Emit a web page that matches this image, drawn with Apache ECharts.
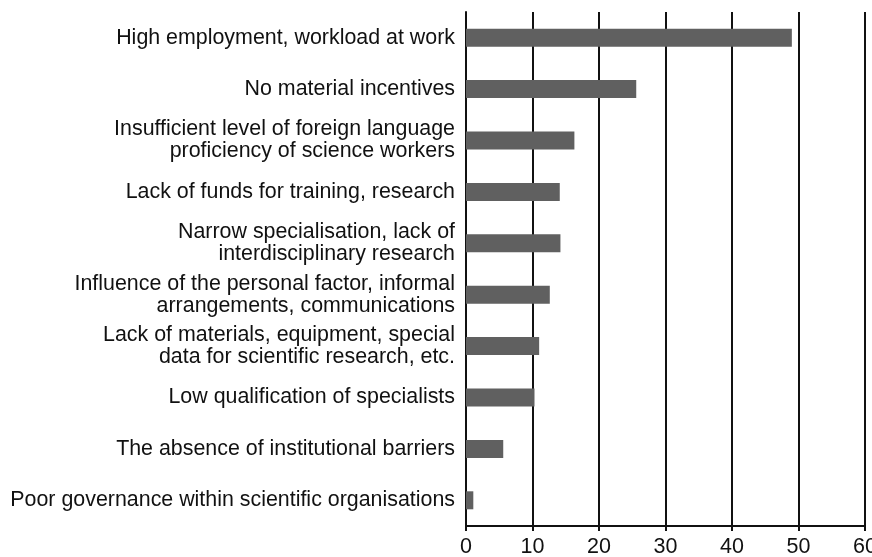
<!DOCTYPE html>
<html>
<head>
<meta charset="utf-8">
<script src="https://cdn.jsdelivr.net/npm/echarts@6/dist/echarts.min.js"></script>
<style>
html,body{margin:0;padding:0;background:#fff;}
#chart{width:872px;height:557px;}
</style>
</head>
<body>
<div id="chart"></div>
<script>
var categories=[
    'High employment, workload at work',
    'No material incentives',
    'Insufficient level of foreign language\nproficiency of science workers',
    'Lack of funds for training, research',
    'Narrow specialisation, lack of\ninterdisciplinary research',
    'Influence of the personal factor, informal\narrangements, communications',
    'Lack of materials, equipment, special\ndata for scientific research, etc.',
    'Low qualification of specialists',
    'The absence of institutional barriers',
    'Poor governance within scientific organisations'
];
var values=[49.0,25.6,16.3,14.1,14.2,12.6,11.0,10.3,5.6,1.1];
var xTicks=[0,10,20,30,40,50,60];

var myChart=echarts.init(document.getElementById('chart'));
var option={
    animation:false,
    grid:{
        left:466,
        right:7,
        top:12,
        bottom:31,
        outerBoundsMode:'none'
    },
    xAxis:{
        type:'value',
        min:xTicks[0],
        max:xTicks[xTicks.length-1],
        interval:10,
        axisLine:{show:true,lineStyle:{color:'#111',width:2}},
        axisTick:{show:true,length:5,lineStyle:{color:'#111',width:2}},
        splitLine:{show:true,lineStyle:{color:'#111',width:2}},
        axisLabel:{
            color:'#111',
            fontSize:21.5,
            fontFamily:'Liberation Sans',
            margin:10
        }
    },
    yAxis:{
        type:'category',
        inverse:true,
        data:categories,
        axisLine:{show:true,lineStyle:{color:'#111',width:2}},
        axisTick:{show:false},
        axisLabel:{
            color:'#111',
            fontSize:21.4,
            fontFamily:'Liberation Sans',
            lineHeight:22,
            align:'right',
            margin:11
        }
    },
    series:[{
        type:'bar',
        data:values,
        barWidth:18,
        itemStyle:{color:'#606060'}
    }]
};
myChart.setOption(option);
</script>
</body>
</html>
